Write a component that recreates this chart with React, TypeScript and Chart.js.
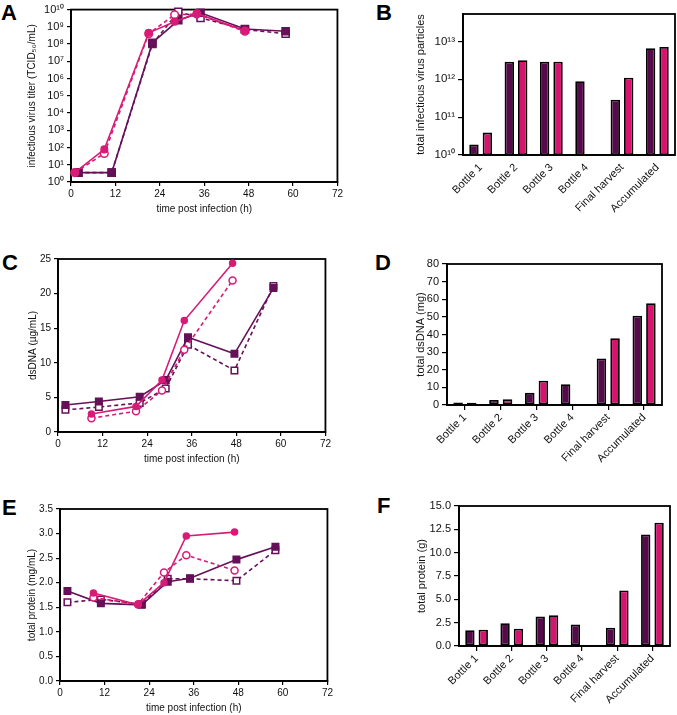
import React, { useEffect, useRef } from 'react';
import { Chart, registerables } from 'chart.js';

Chart.register(...registerables);
Chart.defaults.font.family = "'Liberation Sans', Arial, Helvetica, sans-serif";
Chart.defaults.color = '#111';

// ---------- shared ----------
const timeTicks = [0, 12, 24, 36, 48, 60, 72];
const barCategories = ['Bottle 1', 'Bottle 2', 'Bottle 3', 'Bottle 4', 'Final harvest', 'Accumulated'];

// ---------- A: infectious virus titer (log) ----------
const aTicks = [1, 10, 1e2, 1e3, 1e4, 1e5, 1e6, 1e7, 1e8, 1e9, 1e10];
const aPinkSolidX = [1, 9, 21, 28, 34, 47];
const aPinkSolidY = [3.5, 78, 4.5e8, 2e9, 6e9, 6e8];
const aPinkDashedX = [1, 9, 21, 28, 34, 47];
const aPinkDashedY = [3.5, 45, 4e8, 5e9, 5.5e9, 5.5e8];
const aPurpleSolidX = [2, 11, 22, 29, 35, 47, 58];
const aPurpleSolidY = [3.5, 3.5, 1.2e8, 2.4e9, 6.5e9, 7.5e8, 5.5e8];
const aPurpleDashedX = [2, 11, 22, 29, 35, 47, 58];
const aPurpleDashedY = [3.5, 3.5, 1e8, 7.5e9, 3.3e9, 7e8, 4e8];

// ---------- B: total infectious virus particles (log) ----------
const bTicks = [1e10, 1e11, 1e12, 1e13];
const bPurple = [1.9e10, 2.9e12, 2.9e12, 8.9e11, 2.9e11, 6.6e12];
const bPink = [3.9e10, 3.2e12, 2.9e12, null, 1.1e12, 7.1e12];

// ---------- C: dsDNA ----------
const cPinkSolidX = [9, 21, 28, 34, 47];
const cPinkSolidY = [2.6, 3.7, 7.5, 16.1, 24.4];
const cPinkDashedX = [9, 21, 28, 34, 47];
const cPinkDashedY = [2.0, 3.0, 6.0, 11.9, 21.9];
const cPurpleSolidX = [2, 11, 22, 29, 35, 47.5, 58];
const cPurpleSolidY = [3.9, 4.4, 5.1, 7.5, 13.7, 11.3, 20.8];
const cPurpleDashedX = [2, 11, 22, 29, 35, 47.5, 58];
const cPurpleDashedY = [3.2, 3.6, 4.2, 6.3, 12.6, 8.9, 21.1];

// ---------- D: total dsDNA ----------
const dPurple = [1.4, 2.8, 6.9, 11.8, 26.4, 50.7];
const dPink = [1.3, 3.2, 13.8, null, 37.9, 57.8];

// ---------- E: total protein ----------
const ePinkSolidX = [9, 21, 28, 34, 47];
const ePinkSolidY = [1.79, 1.55, 2.0, 2.95, 3.03];
const ePinkDashedX = [9, 21, 28, 34, 47];
const ePinkDashedY = [1.7, 1.56, 2.21, 2.56, 2.25];
const ePurpleSolidX = [2, 11, 22, 29, 35, 47.5, 58];
const ePurpleSolidY = [1.83, 1.58, 1.55, 2.02, 2.09, 2.47, 2.73];
const ePurpleDashedX = [2, 11, 22, 29, 35, 47.5, 58];
const ePurpleDashedY = [1.6, 1.66, 1.56, 2.08, 2.08, 2.04, 2.66];

// ---------- F: total protein (g) ----------
const fPurple = [1.7, 2.45, 3.15, 2.3, 1.95, 11.95];
const fPink = [1.75, 1.85, 3.3, null, 5.95, 13.2];

// ---------- styles ----------
const PINK_LINE = '#d81b76';
const PURPLE_LINE = '#651058';
const PINK_BAR = '#d6136f';
const PURPLE_BAR = '#560a4b';
const TXT = '#111';

const SUP: Record<string, string> = { '0': '⁰', '1': '¹', '2': '²', '3': '³', '4': '⁴', '5': '⁵', '6': '⁶', '7': '⁷', '8': '⁸', '9': '⁹' };
const pow10Label = (v: number) => '10' + String(Math.round(Math.log10(v))).split('').map((c) => SUP[c]).join('');

const zip = (xs: number[], ys: number[]) => xs.map((x, i) => ({ x, y: ys[i] }));

const framePlugin = {
  id: 'frame',
  beforeDatasetsDraw(chart: any) {
    const { ctx, chartArea: a } = chart;
    ctx.save();
    ctx.strokeStyle = '#000';
    ctx.lineWidth = 1.8;
    ctx.strokeRect(a.left, a.top, a.right - a.left, a.bottom - a.top);
    ctx.restore();
  },
};

type Geo = { cl: number; ct: number; cw: number; ch: number; L: number; T: number; R: number; B: number };

function lineDatasets(ps: any[], pd: any[], us: any[], ud: any[], sq: number, ci: number) {
  return [
    { label: 'pink solid', data: ps, borderColor: PINK_LINE, backgroundColor: PINK_LINE, pointBackgroundColor: PINK_LINE, pointBorderColor: PINK_LINE, pointStyle: 'circle', pointRadius: ci, borderWidth: 1.6, pointBorderWidth: 1.5, clip: false },
    { label: 'pink dashed', data: pd, borderColor: PINK_LINE, backgroundColor: '#fff', pointBackgroundColor: '#fff', pointBorderColor: PINK_LINE, pointStyle: 'circle', pointRadius: ci + 0.5, borderWidth: 1.6, borderDash: [4, 3], pointBorderWidth: 1.5, clip: false },
    { label: 'purple solid', data: us, borderColor: PURPLE_LINE, backgroundColor: PURPLE_LINE, pointBackgroundColor: PURPLE_LINE, pointBorderColor: PURPLE_LINE, pointStyle: 'rect', pointRadius: sq, borderWidth: 1.6, pointBorderWidth: 1.5, clip: false },
    { label: 'purple dashed', data: ud, borderColor: PURPLE_LINE, backgroundColor: '#fff', pointBackgroundColor: '#fff', pointBorderColor: PURPLE_LINE, pointStyle: 'rect', pointRadius: sq, borderWidth: 1.6, borderDash: [4, 3], pointBorderWidth: 1.5, clip: false },
  ];
}

function lineConfig(g: Geo, datasets: any[], yScale: any, yTitle: string) {
  const yW = g.L - g.cl;
  const xH = g.ct + g.ch - g.B;
  return {
    type: 'line',
    data: { datasets },
    options: {
      responsive: false,
      animation: false,
      events: [],
      layout: { padding: { left: 0, top: g.T - g.ct, right: g.cl + g.cw - g.R, bottom: 0 } },
      plugins: { legend: { display: false }, tooltip: { enabled: false } },
      scales: {
        x: {
          type: 'linear',
          min: 0,
          max: 72,
          afterBuildTicks: (s: any) => { s.ticks = timeTicks.map((v) => ({ value: v })); },
          ticks: { font: { size: 10 }, padding: 2, color: TXT, maxRotation: 0, autoSkip: false },
          grid: { drawOnChartArea: false, color: '#000', tickLength: 4, lineWidth: 1.2 },
          border: { display: true, color: '#000', width: 1.8 },
          title: { display: true, text: 'time post infection (h)', font: { size: 10 }, padding: 0, color: TXT },
          afterFit: (s: any) => { s.height = xH; },
        },
        y: {
          ...yScale,
          grid: { drawOnChartArea: false, color: '#000', tickLength: 4, lineWidth: 1.2 },
          border: { display: true, color: '#000', width: 1.8 },
          title: { display: true, text: yTitle, font: { size: 10 }, padding: 0, color: TXT },
          afterFit: (s: any) => { s.width = yW; },
        },
      },
    },
    plugins: [framePlugin],
  };
}

function barConfig(g: Geo, purple: (number | null)[], pink: (number | null)[], yScale: any, yTitle: string, showXTicks: boolean) {
  const yW = g.L - g.cl;
  const xH = g.ct + g.ch - g.B;
  return {
    type: 'bar',
    data: {
      labels: barCategories,
      datasets: [
        { label: 'purple', data: purple, backgroundColor: PURPLE_BAR, borderColor: '#000', borderWidth: 1.8, borderSkipped: false, categoryPercentage: 0.76, barPercentage: 0.7 },
        { label: 'pink', data: pink, backgroundColor: PINK_BAR, borderColor: '#000', borderWidth: 1.8, borderSkipped: false, categoryPercentage: 0.76, barPercentage: 0.7 },
      ],
    },
    options: {
      responsive: false,
      animation: false,
      events: [],
      layout: { padding: { left: 0, top: g.T - g.ct, right: g.cl + g.cw - g.R, bottom: 0 } },
      plugins: { legend: { display: false }, tooltip: { enabled: false } },
      scales: {
        x: {
          type: 'category',
          offset: true,
          ticks: { font: { size: 11 }, minRotation: 45, maxRotation: 45, padding: 1, color: TXT, autoSkip: false },
          grid: { drawOnChartArea: false, offset: false, color: showXTicks ? '#000' : 'rgba(0,0,0,0)', tickLength: 5, lineWidth: 1.2 },
          border: { display: true, color: '#000', width: 1.8 },
          afterFit: (s: any) => { s.height = xH; },
        },
        y: {
          ...yScale,
          grid: { drawOnChartArea: false, color: '#000', tickLength: 5, lineWidth: 1.2 },
          border: { display: true, color: '#000', width: 1.8 },
          title: { display: true, text: yTitle, font: { size: 11 }, padding: 0, color: TXT },
          afterFit: (s: any) => { s.width = yW; },
        },
      },
    },
    plugins: [framePlugin],
  };
}

function Panel({ g, make }: { g: Geo; make: () => any }) {
  const ref = useRef<HTMLCanvasElement>(null);
  useEffect(() => {
    const chart = new Chart(ref.current as HTMLCanvasElement, make());
    return () => chart.destroy();
  }, []);
  return (
    <canvas
      ref={ref}
      width={g.cw}
      height={g.ch}
      style={{ position: 'absolute', left: g.cl, top: g.ct, width: g.cw, height: g.ch }}
    />
  );
}

const gA: Geo = { cl: 26, ct: 0, cw: 319, ch: 215, L: 71, T: 9, R: 338, B: 182 };
const gB: Geo = { cl: 414, ct: 4, cw: 263, ch: 221, L: 463, T: 14, R: 675, B: 155 };
const gC: Geo = { cl: 27, ct: 250, cw: 306, ch: 215, L: 58, T: 258, R: 326, B: 432 };
const gD: Geo = { cl: 414, ct: 254, cw: 258, ch: 216, L: 447, T: 264, R: 662, B: 405 };
const gE: Geo = { cl: 26, ct: 500, cw: 309, ch: 214, L: 60, T: 508, R: 328, B: 681 };
const gF: Geo = { cl: 415, ct: 496, cw: 262, ch: 219, L: 459, T: 506, R: 670, B: 646 };

const letterStyle = (left: number, top: number): React.CSSProperties => ({
  position: 'absolute',
  left,
  top,
  fontFamily: "'Liberation Sans', Arial, Helvetica, sans-serif",
  fontWeight: 700,
  fontSize: 22,
  lineHeight: 1,
  color: '#000',
});

export default function App() {
  return (
    <div style={{ position: 'absolute', left: 0, top: 0, width: 677, height: 715, background: '#fff', overflow: 'hidden' }}>
      <Panel
        g={gA}
        make={() =>
          lineConfig(
            gA,
            lineDatasets(zip(aPinkSolidX, aPinkSolidY), zip(aPinkDashedX, aPinkDashedY), zip(aPurpleSolidX, aPurpleSolidY), zip(aPurpleDashedX, aPurpleDashedY), 5, 3.3),
            {
              type: 'logarithmic',
              min: 1,
              max: 1e10,
              afterBuildTicks: (s: any) => { s.ticks = aTicks.map((v) => ({ value: v })); },
              ticks: { font: { size: 11 }, color: TXT, padding: 3, autoSkip: false, callback: (v: any) => pow10Label(Number(v)) },
            },
            'infectious virus titer (TCID₅₀/mL)'
          )
        }
      />
      <Panel
        g={gB}
        make={() =>
          barConfig(
            gB,
            bPurple,
            bPink,
            {
              type: 'logarithmic',
              min: 1e10,
              max: 5.3e13,
              afterBuildTicks: (s: any) => { s.ticks = bTicks.map((v) => ({ value: v })); },
              ticks: { font: { size: 11.5 }, color: TXT, padding: 3, autoSkip: false, callback: (v: any) => pow10Label(Number(v)) },
            },
            'total infectious virus particles',
            false
          )
        }
      />
      <Panel
        g={gC}
        make={() =>
          lineConfig(
            gC,
            lineDatasets(zip(cPinkSolidX, cPinkSolidY), zip(cPinkDashedX, cPinkDashedY), zip(cPurpleSolidX, cPurpleSolidY), zip(cPurpleDashedX, cPurpleDashedY), 4.6, 3),
            { type: 'linear', min: 0, max: 25, ticks: { stepSize: 5, font: { size: 10 }, color: TXT, padding: 3 } },
            'dsDNA (µg/mL)'
          )
        }
      />
      <Panel
        g={gD}
        make={() =>
          barConfig(
            gD,
            dPurple,
            dPink,
            { type: 'linear', min: 0, max: 80, ticks: { stepSize: 10, font: { size: 11 }, color: TXT, padding: 3 } },
            'total dsDNA (mg)',
            true
          )
        }
      />
      <Panel
        g={gE}
        make={() =>
          lineConfig(
            gE,
            lineDatasets(zip(ePinkSolidX, ePinkSolidY), zip(ePinkDashedX, ePinkDashedY), zip(ePurpleSolidX, ePurpleSolidY), zip(ePurpleDashedX, ePurpleDashedY), 4.6, 3),
            { type: 'linear', min: 0, max: 3.5, ticks: { stepSize: 0.5, font: { size: 10 }, color: TXT, padding: 3, callback: (v: any) => Number(v).toFixed(1) } },
            'total protein (mg/mL)'
          )
        }
      />
      <Panel
        g={gF}
        make={() =>
          barConfig(
            gF,
            fPurple,
            fPink,
            { type: 'linear', min: 0, max: 15, ticks: { stepSize: 2.5, font: { size: 11 }, color: TXT, padding: 3, callback: (v: any) => Number(v).toFixed(1) } },
            'total protein (g)',
            true
          )
        }
      />
      <div style={letterStyle(1, 2)}>A</div>
      <div style={letterStyle(376, 2)}>B</div>
      <div style={letterStyle(2, 252)}>C</div>
      <div style={letterStyle(375, 252)}>D</div>
      <div style={letterStyle(2, 497)}>E</div>
      <div style={letterStyle(377, 495)}>F</div>
    </div>
  );
}
